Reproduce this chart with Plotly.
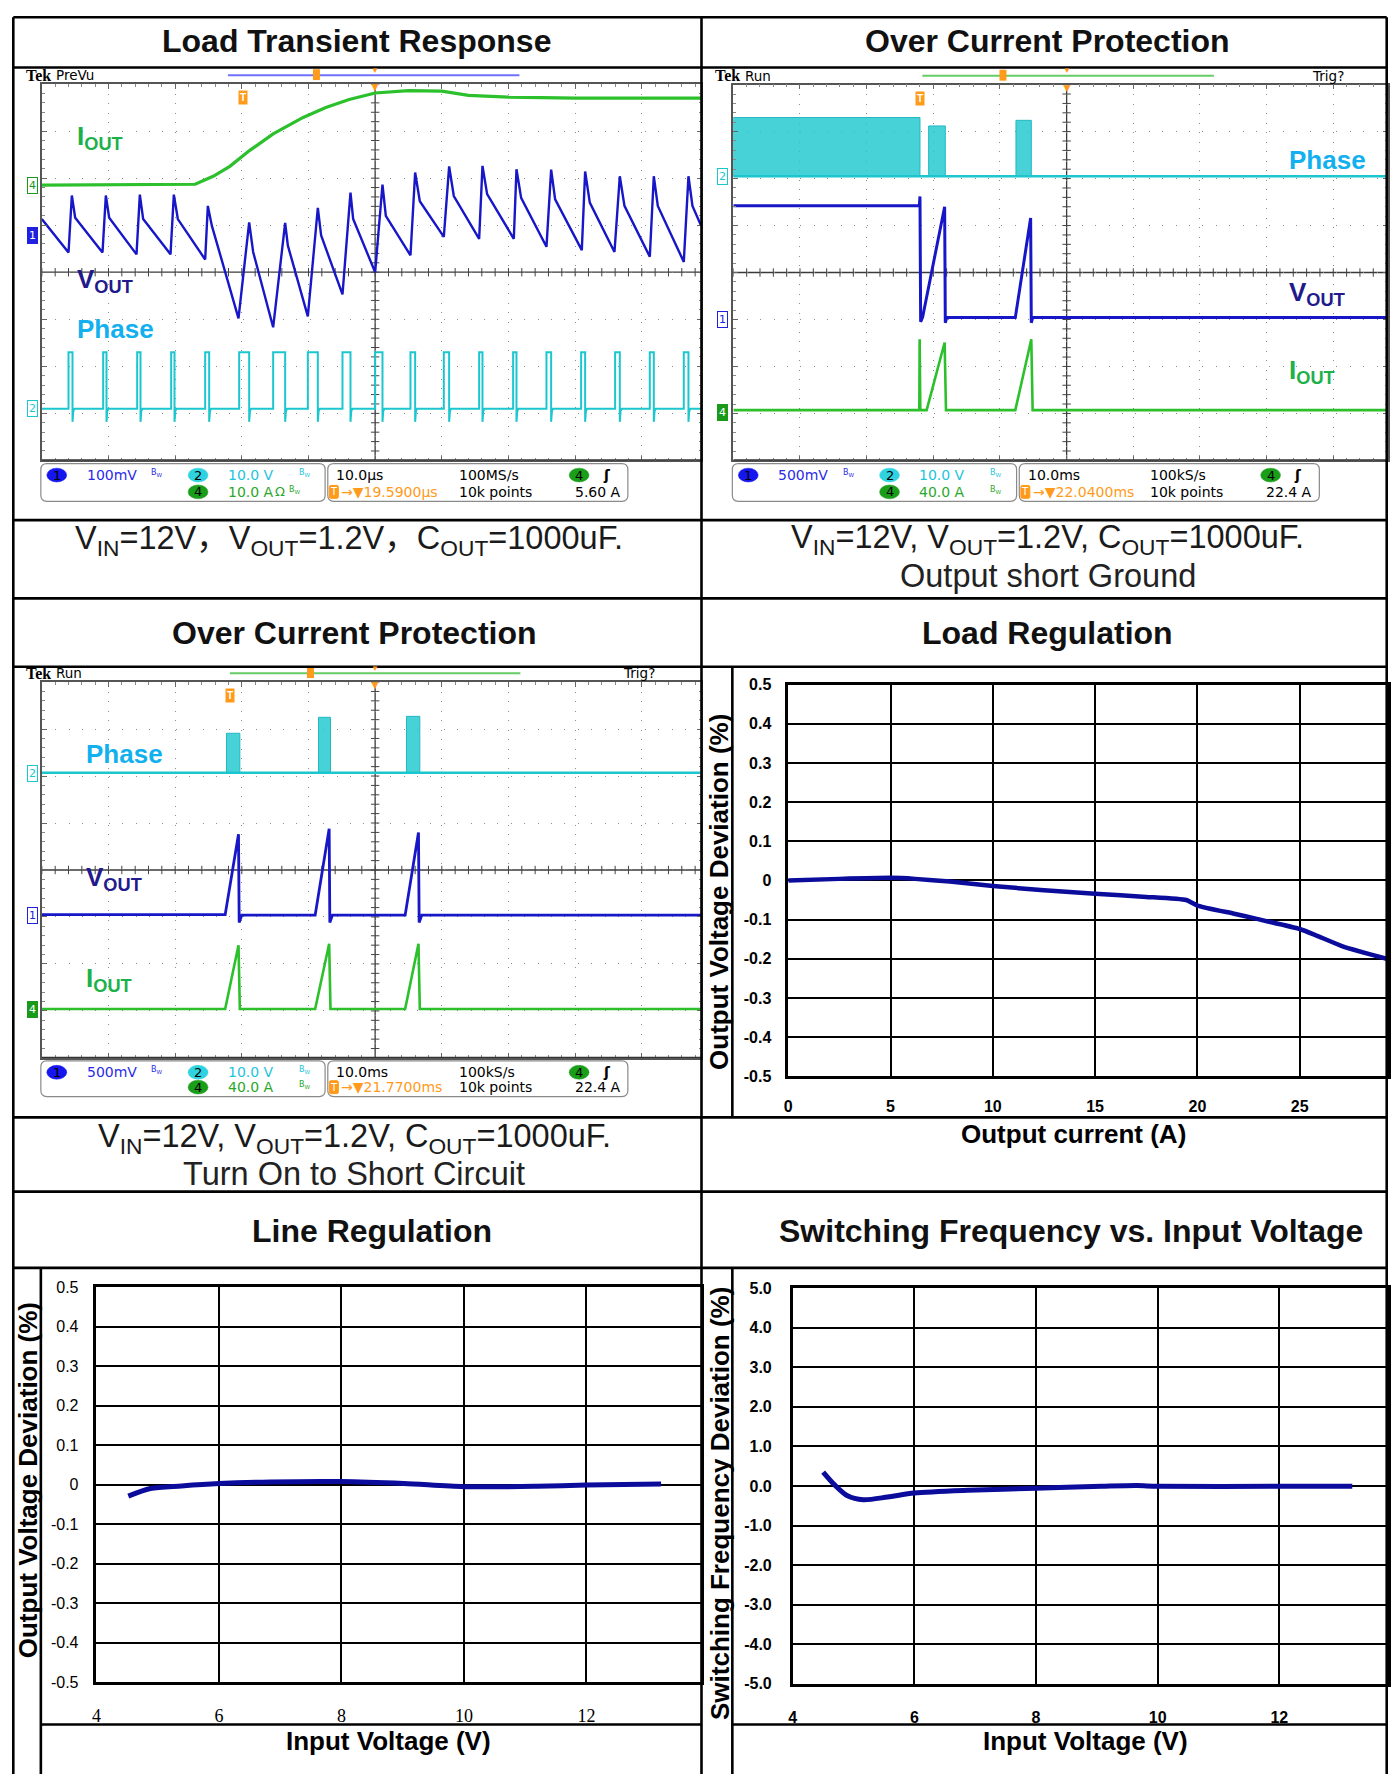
import numpy as np
import plotly.graph_objects as go

# The page keeps the browser's 8px body margin, so the figure is made 16px smaller than the
# 1399x1791 window and every reference position is shifted by that margin.
PAGE_W, PAGE_H = 1399, 1791
OFF = 8
W, H = PAGE_W - 2 * OFF, PAGE_H - 2 * OFF
R_EDGE = OFF + W
B_EDGE = OFF + H

# ======================= DATA =======================
# --- Load Transient Response scope (x: divisions 0..10, y: divisions -4..4) ---
lt_iout_x = [0, 2.3, 2.57, 2.82, 3.12, 3.47, 3.92, 4.26, 4.61, 5.0, 5.5, 6.0, 6.4, 7.0, 8.0, 9.9]
lt_iout_y = [1.85, 1.87, 2.04, 2.25, 2.59, 2.94, 3.29, 3.50, 3.67, 3.81, 3.86, 3.85, 3.76, 3.72, 3.70, 3.70]

lt_vout_x = [0.00, 0.40, 0.45, 0.50, 0.91, 0.96, 1.01, 1.42, 1.47, 1.52, 1.93, 1.98, 2.04,
             2.45, 2.49, 2.55, 2.95, 3.11, 3.17, 3.47, 3.65, 3.69, 3.99, 4.14, 4.19, 4.51,
             4.63, 4.67, 5.00, 5.11, 5.16, 5.53, 5.60, 5.67, 6.03, 6.11, 6.18, 6.56, 6.61,
             6.68, 7.08, 7.12, 7.19, 7.57, 7.64, 7.70, 8.10, 8.15, 8.22, 8.59, 8.67, 8.74,
             9.12, 9.18, 9.24, 9.63, 9.70, 9.76, 9.89]
lt_vout_y = [1.13, 0.42, 1.63, 1.16, 0.42, 1.63, 1.16, 0.38, 1.65, 1.13, 0.38, 1.65, 1.13,
             0.27, 1.41, 0.99, -0.98, 1.06, 0.43, -1.17, 1.05, 0.57, -0.94, 1.37, 0.78, -0.47,
             1.69, 1.13, 0.00, 1.86, 1.20, 0.36, 2.12, 1.51, 0.75, 2.25, 1.62, 0.71, 2.26,
             1.66, 0.71, 2.19, 1.58, 0.54, 2.18, 1.55, 0.47, 2.14, 1.48, 0.43, 2.04, 1.41,
             0.33, 2.04, 1.41, 0.22, 2.04, 1.41, 0.99]

lt_phase_start = [0.40, 0.92, 1.43, 1.94, 2.45, 2.96, 3.47, 3.99, 4.51, 5.00, 5.53, 6.03, 6.56,
                  7.07, 7.57, 8.09, 8.60, 9.12, 9.63]
lt_phase_end = [0.46, 0.97, 1.48, 1.99, 2.51, 3.11, 3.65, 4.14, 4.63, 5.11, 5.60, 6.11, 6.61,
                7.12, 7.64, 8.15, 8.67, 9.18, 9.70]
lt_phase_base = -2.90
lt_phase_high = -1.70

# --- Over Current Protection: Output short ground ---
ocp1_phase_base = 2.05
ocp1_burst_start = [0.00, 2.93, 4.24]
ocp1_burst_end = [2.80, 3.18, 4.47]
ocp1_burst_high = [3.30, 3.12, 3.24]
ocp1_vout_x = [0.00, 2.79, 2.80, 2.81, 2.84, 3.17, 3.18, 3.20, 4.23, 4.46, 4.47, 4.49, 9.9]
ocp1_vout_y = [1.42, 1.42, 1.62, -1.05, -0.95, 1.40, -1.07, -0.96, -0.96, 1.16, -1.07, -0.96, -0.96]
ocp1_iout_x = [0.00, 2.79, 2.795, 2.805, 2.90, 3.17, 3.19, 4.23, 4.47, 4.49, 9.9]
ocp1_iout_y = [-2.93, -2.93, -1.42, -2.93, -2.93, -1.49, -2.93, -2.93, -1.42, -2.93, -2.93]

# --- Over Current Protection: Turn on to short circuit ---
ocp2_phase_base = 2.07
ocp2_burst_start = [2.77, 4.15, 5.47]
ocp2_burst_end = [2.97, 4.33, 5.67]
ocp2_burst_high = [2.91, 3.25, 3.27]
ocp2_vout_x = [0.00, 2.75, 2.95, 2.96, 3.00, 4.10, 4.31, 4.32, 4.36, 5.45, 5.65, 5.66, 5.70, 9.9]
ocp2_vout_y = [-0.95, -0.95, 0.76, -1.12, -0.96, -0.96, 0.88, -1.12, -0.96, -0.96, 0.80, -1.12, -0.96, -0.96]
ocp2_iout_x = [0.00, 2.75, 2.95, 2.97, 4.10, 4.31, 4.33, 5.45, 5.65, 5.67, 9.9]
ocp2_iout_y = [-2.96, -2.96, -1.60, -2.96, -2.96, -1.57, -2.96, -2.96, -1.57, -2.96, -2.96]

# --- Load Regulation ---
load_current = [0, 2.5, 5, 6.2, 7.9, 10, 12.5, 15, 17.5, 19.45, 20, 21.8, 22.9, 25, 25.8, 27.1, 29.7]
load_dev = [0.0, 0.004, 0.0066, 0.004, -0.003, -0.014, -0.025, -0.034, -0.042, -0.05, -0.064,
            -0.085, -0.098, -0.124, -0.14, -0.168, -0.206]
load_xticks = [0, 5, 10, 15, 20, 25]
load_xlabels = ['0', '5', '10', '15', '20', '25']
dev_yticks = [0.5, 0.4, 0.3, 0.2, 0.1, 0, -0.1, -0.2, -0.3, -0.4, -0.5]
dev_ylabels = ['0.5', '0.4', '0.3', '0.2', '0.1', '0', '-0.1', '-0.2', '-0.3', '-0.4', '-0.5']

# --- Line Regulation ---
line_vin = [4.52, 4.88, 5.39, 6.0, 6.84, 8.0, 9.02, 10.0, 11.19, 12.0, 13.22]
line_dev = [-0.029, -0.0096, -0.003, 0.003, 0.007, 0.008, 0.003, -0.005, -0.004, -0.001, 0.002]
vin_xticks = [4, 6, 8, 10, 12]
vin_xlabels = ['4', '6', '8', '10', '12']

# --- Switching Frequency vs Input Voltage ---
sw_vin = [4.5, 4.68, 4.9, 5.16, 5.56, 6.0, 6.88, 8.0, 9.08, 9.66, 10.0, 12.0, 13.2]
sw_dev = [0.35, 0.04, -0.25, -0.35, -0.28, -0.18, -0.11, -0.06, -0.01, 0.01, -0.01, -0.01, -0.01]
sw_yticks = [5, 4, 3, 2, 1, 0, -1, -2, -3, -4, -5]
sw_ylabels = ['5.0', '4.0', '3.0', '2.0', '1.0', '0.0', '-1.0', '-2.0', '-3.0', '-4.0', '-5.0']

# ======================= STYLE =======================
C_BLUE = '#1717c8'
C_CYAN = '#1cc6cf'
C_GREEN = '#2cc02c'
C_ORANGE = '#ff9a1a'
L_IOUT = '#1db14b'
L_VOUT = '#221a8c'
L_PHASE = '#12b0ee'
CURVE = '#0c0c9c'
SANS = 'Liberation Sans'
TEKF = 'DejaVu Sans'


def px(x):
    return (x - OFF) / W


def py(y):
    return 1 - (y - OFF) / H


fig = go.Figure()
shapes = []
annos = []
axes = {}


def seg(x0, y0, x1, y1, color='black', width=2.5, dash='solid'):
    shapes.append(dict(type='line', xref='paper', yref='paper', x0=px(x0), y0=py(y0),
                       x1=px(x1), y1=py(y1), line=dict(color=color, width=width, dash=dash),
                       layer='above'))


def txt(t, x, y, size, color='#000', family=SANS, xa='center', ya='middle', angle=0, **kw):
    annos.append(dict(text=t, x=px(x), y=py(y), xref='paper', yref='paper', showarrow=False,
                      font=dict(size=size, color=color, family=family), xanchor=xa,
                      yanchor=ya, textangle=angle, **kw))


def rrect(x0, y0, x1, y1, r, color='#8a8a8a', width=1.2, fill=None):
    p = (f"M {px(x0 + r)},{py(y0)} L {px(x1 - r)},{py(y0)} Q {px(x1)},{py(y0)} {px(x1)},{py(y0 + r)} "
         f"L {px(x1)},{py(y1 - r)} Q {px(x1)},{py(y1)} {px(x1 - r)},{py(y1)} "
         f"L {px(x0 + r)},{py(y1)} Q {px(x0)},{py(y1)} {px(x0)},{py(y1 - r)} "
         f"L {px(x0)},{py(y0 + r)} Q {px(x0)},{py(y0)} {px(x0 + r)},{py(y0)} Z")
    d = dict(type='path', xref='paper', yref='paper', path=p, line=dict(color=color, width=width),
             layer='above')
    if fill:
        d['fillcolor'] = fill
    shapes.append(d)


def ellipse(cx, cy, w, h, fill):
    shapes.append(dict(type='circle', xref='paper', yref='paper', x0=px(cx - w / 2), x1=px(cx + w / 2),
                       y0=py(cy + h / 2), y1=py(cy - h / 2), fillcolor=fill,
                       line=dict(color=fill, width=0.5), layer='above'))


def tr(x, y, sfx, color, width=2.5, **kw):
    fig.add_trace(go.Scatter(x=x, y=y, xaxis='x' + sfx, yaxis='y' + sfx, mode='lines',
                             line=dict(color=color, width=width), hoverinfo='skip',
                             showlegend=False, **kw))


# ======================= SCOPES =======================
DIV_W = 67.0
SCOPES = [('', 38, 701, 76.7, 456.7), ('2', 733, R_EDGE, 77.3, 456.7), ('3', 38, 701, 680.5, 1060)]

for sfx, l, r, t, b in SCOPES:
    xmax = (r - l) / DIV_W
    axes['xaxis' + sfx] = dict(domain=[px(l), px(r)], range=[0, xmax], anchor='y' + sfx,
                               showgrid=True, gridcolor='#8c8c8c', gridwidth=1.2, griddash='1px,8.5px',
                               tick0=0, dtick=1, ticks='inside', ticklen=5, tickcolor='#666',
                               minor=dict(dtick=0.2, tick0=0, ticks='inside', ticklen=3,
                                          tickcolor='#888', showgrid=False),
                               showticklabels=False, showline=True, linecolor='#555', linewidth=1.5,
                               mirror='ticks', zeroline=False, fixedrange=True)
    axes['yaxis' + sfx] = dict(domain=[py(b), py(t)], range=[-4, 4], anchor='x' + sfx,
                               showgrid=True, gridcolor='#8c8c8c', gridwidth=1.2, griddash='1px,12.4px',
                               tick0=0, dtick=1, ticks='inside', ticklen=5, tickcolor='#666',
                               minor=dict(dtick=0.2, tick0=0, ticks='inside', ticklen=3,
                                          tickcolor='#888', showgrid=False),
                               showticklabels=False, showline=True, linecolor='#555', linewidth=1.5,
                               mirror='ticks', zeroline=False, fixedrange=True)
    xr = 'x' if sfx == '' else 'x' + sfx
    yr = 'y' if sfx == '' else 'y' + sfx
    shapes.append(dict(type='line', xref=xr, yref=yr, x0=5, x1=5, y0=-4, y1=4,
                       line=dict(color='#3a3a3a', width=1.3), layer='below'))
    shapes.append(dict(type='line', xref=xr, yref=yr, x0=0, x1=xmax, y0=0, y1=0,
                       line=dict(color='#3a3a3a', width=1.3), layer='below'))
    shapes.append(dict(type='line', xref=xr, yref=yr, x0=0, x1=xmax, y0=-4, y1=-4,
                       line=dict(color='#333', width=2.5), layer='above'))
    hx = np.arange(0, xmax + 0.001, 0.2)
    fig.add_trace(go.Scatter(x=hx, y=np.zeros_like(hx), xaxis='x' + sfx, yaxis='y' + sfx, mode='markers',
                             marker=dict(symbol='line-ns', size=6, line=dict(width=1, color='#444')),
                             hoverinfo='skip', showlegend=False))
    vy = np.arange(-4, 4.001, 0.2)
    fig.add_trace(go.Scatter(x=np.full_like(vy, 5.0), y=vy, xaxis='x' + sfx, yaxis='y' + sfx, mode='markers',
                             marker=dict(symbol='line-ew', size=6, line=dict(width=1, color='#444')),
                             hoverinfo='skip', showlegend=False))


def pulse_wave(starts, ends, base, high, xmax):
    xs, ys = [0.0], [base]
    for s, e in zip(starts, ends):
        xs += [s, s, e, e, e + 0.012, e + 0.03]
        ys += [base, high, high, base - 0.28, base - 0.05, base]
    xs.append(xmax)
    ys.append(base)
    return xs, ys


def bursts(starts, ends, highs, base, sfx, xmax):
    for s, e, h in zip(starts, ends, highs):
        tr([s, s, e, e, s], [base, h, h, base, base], sfx, '#22b8c2', width=1, fill='toself',
           fillcolor='rgba(30,200,208,0.82)')
    tr([0, xmax], [base, base], sfx, C_CYAN, width=2.5)


px_x, px_y = pulse_wave(lt_phase_start, lt_phase_end, lt_phase_base, lt_phase_high, 9.9)
tr(px_x, px_y, '', C_CYAN, width=2)
tr(lt_iout_x, lt_iout_y, '', C_GREEN, width=3.2)
tr(lt_vout_x, lt_vout_y, '', C_BLUE, width=2.4)

bursts(ocp1_burst_start, ocp1_burst_end, ocp1_burst_high, ocp1_phase_base, '2', 9.9)
tr(ocp1_vout_x, ocp1_vout_y, '2', C_BLUE, width=3)
tr(ocp1_iout_x, ocp1_iout_y, '2', C_GREEN, width=2.6)

bursts(ocp2_burst_start, ocp2_burst_end, ocp2_burst_high, ocp2_phase_base, '3', 9.9)
tr(ocp2_vout_x, ocp2_vout_y, '3', C_BLUE, width=2.8)
tr(ocp2_iout_x, ocp2_iout_y, '3', C_GREEN, width=2.6)


def scope_deco(left, cy_ref, gtop, mode, trig, bar_color, bar_x0, bar_x1, recx, cx, tflag, markers,
               labels):
    ytop = gtop - 9
    txt('<b>Tek</b>', left, ytop, 16, family='Liberation Serif', xa='left')
    txt(mode, left + 30, ytop, 13.5, family=TEKF, xa='left')
    if trig:
        txt(trig, left + 600, ytop, 13.5, family=TEKF, xa='left')
    seg(bar_x0, ytop, bar_x1, ytop, color=bar_color, width=2)
    shapes.append(dict(type='rect', xref='paper', yref='paper', x0=px(recx - 3.5), x1=px(recx + 3.5),
                       y0=py(ytop + 5), y1=py(ytop - 6), fillcolor=C_ORANGE, line=dict(width=0),
                       layer='above'))
    txt('▼', cx, gtop - 14, 8, color=C_ORANGE)
    txt('▼', cx, gtop + 3, 12, color=C_ORANGE)
    txt('<b>T</b>', tflag, gtop + 14, 10, color='white', bgcolor=C_ORANGE, borderpad=1)
    for num, ydiv, style, col in markers:
        yy = cy_ref - ydiv * 47.5
        if style == 'fill':
            txt(num, left + 9, yy, 11, color='white', family=TEKF, bgcolor=col, bordercolor=col,
                borderwidth=1, borderpad=1)
        else:
            txt(num, left + 9, yy, 11, color=col, family=TEKF, bgcolor='white', bordercolor=col,
                borderwidth=1, borderpad=1)
    for t, x, y, col in labels:
        txt(t, x, y, 26, color=col, xa='left')


scope_deco(20, 266.7, 76.7, 'PreVu', None, '#7070ff', 225, 518, 314, 373, 240,
           [('4', 1.85, 'line', '#1a9a1a'), ('1', 0.77, 'fill', '#2020e0'), ('2', -2.9, 'line', C_CYAN)],
           [('<b>I<sub>OUT</sub></b>', 71, 131, L_IOUT), ('<b>V<sub>OUT</sub></b>', 71, 275, L_VOUT),
            ('<b>Phase</b>', 71, 324.5, L_PHASE)])
scope_deco(713, 267.0, 77.3, 'Run', 'Trig?', '#66cc66', 923, 1216, 1004, 1068.5, 920.5,
           [('2', 2.05, 'line', C_CYAN), ('1', -1.0, 'line', '#2020e0'), ('4', -2.97, 'fill', '#1a9a1a')],
           [('<b>Phase</b>', 1289, 153, L_PHASE), ('<b>V<sub>OUT</sub></b>', 1289, 288.5, L_VOUT),
            ('<b>I<sub>OUT</sub></b>', 1289, 367, L_IOUT)])
scope_deco(20, 870.4, 680.5, 'Run', 'Trig?', '#66cc66', 227, 519, 308, 372.8, 227,
           [('2', 2.06, 'line', C_CYAN), ('1', -0.97, 'line', '#2020e0'), ('4', -2.96, 'fill', '#1a9a1a')],
           [('<b>Phase</b>', 80, 753, L_PHASE), ('<b>V<sub>OUT</sub></b>', 80, 879, L_VOUT),
            ('<b>I<sub>OUT</sub></b>', 80, 981, L_IOUT)])


def status_bar(bx, yt, yb, ch1, ch2, ch4, omega, tb, sr, ttime, rec, tlev):
    r1 = yt + 11.5
    r2 = yb - 9.5
    rrect(bx, yt, bx + 285.7, yb, 6)
    rrect(bx + 288.4, yt, bx + 590, yb, 6)
    ellipse(bx + 16, r1, 20, 14, '#1515ee')
    txt('1', bx + 16, r1, 13, color='black', family=TEKF)
    txt(ch1, bx + 44, r1, 14, color='#2a2ae8', family=TEKF, xa='left')
    txt('B<sub>W</sub>', bx + 109, r1 - 2, 8, color='#2a2ae8', family=TEKF, xa='left')
    ellipse(bx + 158, r1, 20, 14, '#2fd3df')
    txt('2', bx + 158, r1, 13, color='black', family=TEKF)
    txt(ch2, bx + 186, r1, 14, color='#1ec4dc', family=TEKF, xa='left')
    txt('B<sub>W</sub>', bx + 257, r1 - 2, 8, color='#1ec4dc', family=TEKF, xa='left')
    ellipse(bx + 158, r2, 20, 14, '#1a9e1a')
    txt('4', bx + 158, r2, 13, color='black', family=TEKF)
    txt(ch4, bx + 186, r2, 14, color='#2aa82a', family=TEKF, xa='left')
    if omega:
        txt('Ω', bx + 233, r2, 13, color='#2aa82a', family=TEKF, xa='left')
        txt('B<sub>W</sub>', bx + 247, r2 - 2, 8, color='#2aa82a', family=TEKF, xa='left')
    else:
        txt('B<sub>W</sub>', bx + 257, r2 - 2, 8, color='#2aa82a', family=TEKF, xa='left')
    txt(tb, bx + 295, r1, 14, color='black', family=TEKF, xa='left')
    txt(sr, bx + 418, r1, 14, color='black', family=TEKF, xa='left')
    ellipse(bx + 541, r1, 20, 14, '#1a9e1a')
    txt('4', bx + 541, r1, 13, color='black', family=TEKF)
    txt('<b>ʃ</b>', bx + 569, r1, 14, color='black', family=TEKF)
    rrect(bx + 290, r2 - 6.5, bx + 299, r2 + 6.5, 1.5, color=C_ORANGE, width=1, fill=C_ORANGE)
    txt('T', bx + 294.5, r2, 10, color='white', family=TEKF)
    txt('→▼' + ttime, bx + 300, r2, 14, color=C_ORANGE, family=TEKF, xa='left')
    txt(rec, bx + 418, r2, 14, color='black', family=TEKF, xa='left')
    txt(tlev, bx + 585, r2, 14, color='black', family=TEKF, xa='right')


status_bar(37, 460, 498, '100mV', '10.0 V', '10.0 A', True, '10.0µs', '100MS/s', '19.5900µs',
           '10k points', '5.60 A')
status_bar(732, 460, 498, '500mV', '10.0 V', '40.0 A', False, '10.0ms', '100kS/s', '22.0400ms',
           '10k points', '22.4 A')
status_bar(37, 1063, 1099, '500mV', '10.0 V', '40.0 A', False, '10.0ms', '100kS/s', '21.7700ms',
           '10k points', '22.4 A')


# ======================= LINE CHARTS =======================
def chart_axes(sfx, l, r, t, b, xr, yr, xtv, xtt, ytv, ytt, xfont, yfont, xlen, ylen):
    axes['xaxis' + sfx] = dict(domain=[px(l), px(r)], range=xr, anchor='y' + sfx, tickmode='array',
                               tickvals=xtv, ticktext=xtt, showgrid=True, gridcolor='black',
                               gridwidth=2, showline=True, linecolor='black', linewidth=2.5,
                               mirror=True, zeroline=False, ticks='outside', ticklen=xlen,
                               tickcolor='rgba(0,0,0,0)', tickfont=xfont, fixedrange=True)
    axes['yaxis' + sfx] = dict(domain=[py(b), py(t)], range=yr, anchor='x' + sfx, tickmode='array',
                               tickvals=ytv, ticktext=ytt, showgrid=True, gridcolor='black',
                               gridwidth=2, showline=True, linecolor='black', linewidth=2.5,
                               mirror=True, zeroline=False, ticks='outside', ticklen=ylen,
                               tickcolor='rgba(0,0,0,0)', tickfont=yfont, fixedrange=True)


bold16 = dict(family=SANS, size=16, color='black', weight='bold')
NARROW = 'Liberation Sans Narrow, Liberation Sans'
LOAD_L, LOAD_PX_PER_A = 788.2, 102.8 / 5
LINE_L, LINE_PX_PER_V = 92.9, 61.55
SW_L, SW_PX_PER_V = 792.7, 61.13
chart_axes('4', LOAD_L, R_EDGE, 683, 1078.6, [0, (R_EDGE - LOAD_L) / LOAD_PX_PER_A], [-0.5, 0.5],
           load_xticks, load_xlabels, dev_yticks, dev_ylabels, bold16, bold16, 14, 11)
chart_axes('5', LINE_L, 701, 1291.6, 1690.2, [4, 4 + (701 - LINE_L) / LINE_PX_PER_V], [-0.5, 0.5],
           vin_xticks, vin_xlabels, dev_yticks, dev_ylabels,
           dict(family='Liberation Serif', size=18, color='black'),
           dict(family=NARROW, size=16, color='black'), 16, 12)
chart_axes('6', SW_L, R_EDGE, 1292.3, 1692, [4, 4 + (R_EDGE - SW_L) / SW_PX_PER_V], [-5, 5],
           vin_xticks, vin_xlabels, sw_yticks, sw_ylabels,
           dict(family=NARROW, size=16, color='black', weight='bold'),
           dict(family=NARROW, size=16, color='black', weight='bold'), 17, 15)

fig.add_trace(go.Scatter(x=load_current, y=load_dev, xaxis='x4', yaxis='y4', mode='lines',
                         line=dict(color=CURVE, width=4.5, shape='spline', smoothing=0.5),
                         hoverinfo='skip', showlegend=False))
fig.add_trace(go.Scatter(x=line_vin, y=line_dev, xaxis='x5', yaxis='y5', mode='lines',
                         line=dict(color=CURVE, width=5, shape='spline', smoothing=0.8),
                         hoverinfo='skip', showlegend=False))
fig.add_trace(go.Scatter(x=sw_vin, y=sw_dev, xaxis='x6', yaxis='y6', mode='lines',
                         line=dict(color=CURVE, width=5, shape='spline', smoothing=0.8),
                         hoverinfo='skip', showlegend=False))

txt('<b>Output Voltage Deviation (%)</b>', 718, 892, 26, angle=-90)
txt('<b>Output current (A)</b>', 1075, 1137, 26)
txt('<b>Output Voltage Deviation (%)</b>', 23.5, 1486, 26, angle=-90)
txt('<b>Input Voltage (V)</b>', 386, 1750, 26)
txt('<b>Switching Frequency Deviation (%)</b>', 719, 1510, 26, angle=-90)
txt('<b>Input Voltage (V)</b>', 1087, 1750, 26)

# ======================= TABLE =======================
TITLE = 32
txt('<b>Load Transient Response</b>', 354, 33.5, TITLE, color='#111')
txt('<b>Over Current Protection</b>', 1049, 33.5, TITLE, color='#111')
txt('<b>Over Current Protection</b>', 352, 631, TITLE, color='#111')
txt('<b>Load Regulation</b>', 1049, 631, TITLE, color='#111')
txt('<b>Line Regulation</b>', 370, 1235, TITLE, color='#111')
txt('<b>Switching Frequency vs. Input Voltage</b>', 1072, 1235, TITLE, color='#111')

CAP = 32.5
txt('V<sub>IN</sub>=12V，V<sub>OUT</sub>=1.2V，C<sub>OUT</sub>=1000uF.', 347, 538, CAP, color='#1a1a1a',
    family='Liberation Sans, Noto Sans CJK SC')
txt('V<sub>IN</sub>=12V, V<sub>OUT</sub>=1.2V, C<sub>OUT</sub>=1000uF.', 1049, 537, CAP, color='#1a1a1a')
txt('Output short Ground', 1049, 573, CAP, color='#222')
txt('V<sub>IN</sub>=12V, V<sub>OUT</sub>=1.2V, C<sub>OUT</sub>=1000uF.', 352, 1141, CAP, color='#1a1a1a')
txt('Turn On to Short Circuit', 352, 1177, CAP, color='#222')

LW = 2.6
LEFT_B = OFF + LW / 2
TOP_B = OFF + LW / 2
RIGHT_B = R_EDGE - LW / 2
BOT = B_EDGE
seg(LEFT_B, TOP_B, RIGHT_B, TOP_B, width=LW)
seg(LEFT_B, TOP_B, LEFT_B, BOT, width=LW)
seg(RIGHT_B, TOP_B, RIGHT_B, BOT, width=LW)
seg(701, TOP_B, 701, BOT, width=LW)
for yy in [60, 517, 596, 665, 1120, 1195, 1272]:
    seg(LEFT_B, yy, RIGHT_B, yy, width=LW)
seg(732, 665, 732, 1120, width=LW)
seg(37, 1272, 37, BOT, width=LW)
seg(732, 1272, 732, BOT, width=LW)
seg(37, 1733, 701, 1733, width=LW)
seg(732, 1733, RIGHT_B, 1733, width=LW)

fig.update_layout(width=W, height=H, autosize=False, margin=dict(l=0, r=0, t=0, b=0),
                  paper_bgcolor='white', plot_bgcolor='white', showlegend=False,
                  shapes=shapes, annotations=annos, **axes)

fig.write_html("out.html", config={'displayModeBar': False})
